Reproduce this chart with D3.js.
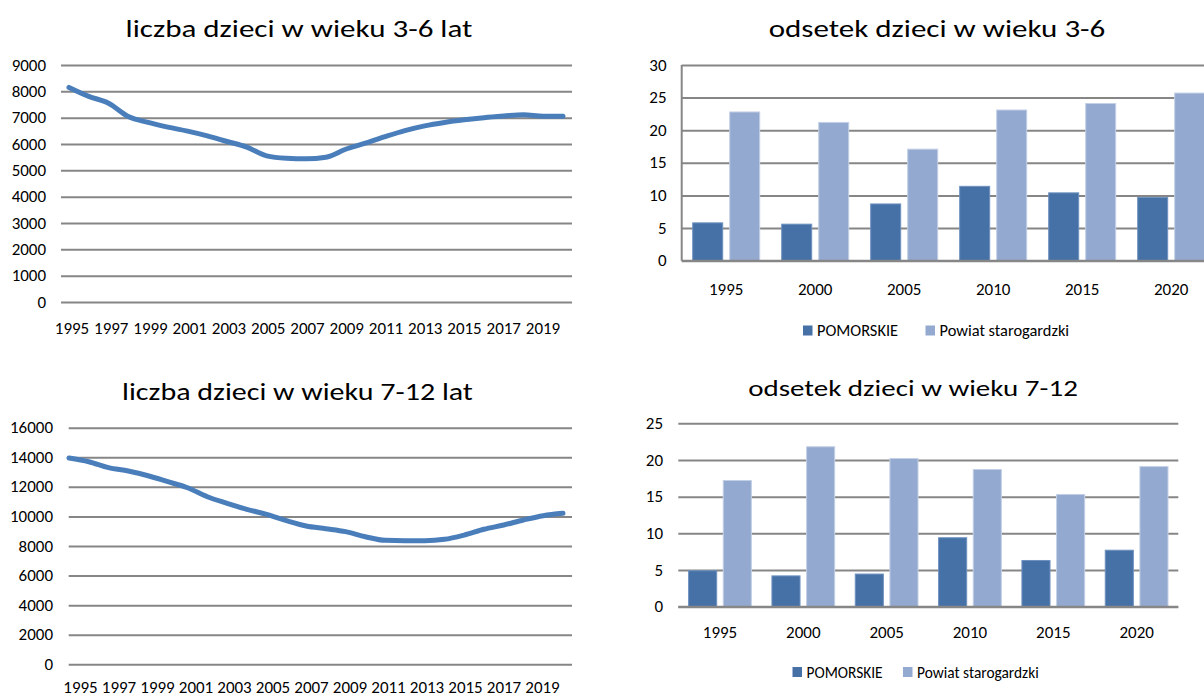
<!DOCTYPE html>
<html>
<head>
<meta charset="utf-8">
<script src="https://cdn.jsdelivr.net/npm/d3@7"></script>
<style>
    html, body { margin: 0; padding: 0; background: #fff; overflow: hidden; }
    svg { display: block; font-family: Carlito, Lato, "Open Sans", sans-serif; }
</style>
</head>
<body>
<svg id="chart" width="1204" height="697"></svg>
<script>
(function (d3) {
    "use strict";

    /***** Dane *****/

    const years = [1995, 1996, 1997, 1998, 1999, 2000, 2001, 2002, 2003, 2004, 2005, 2006, 2007,
                   2008, 2009, 2010, 2011, 2012, 2013, 2014, 2015, 2016, 2017, 2018, 2019, 2020];
    const yearTicks = [1995, 1997, 1999, 2001, 2003, 2005, 2007, 2009, 2011, 2013, 2015, 2017, 2019];

    // liczba dzieci 3-6 lat
    const kids36 = [8150, 7810, 7550, 7045, 6820, 6640, 6490, 6310, 6095, 5880, 5550, 5460, 5440,
                    5500, 5800, 6030, 6280, 6510, 6690, 6820, 6920, 7000, 7060, 7110, 7050, 7050];
    const kids36Ticks = [0, 1000, 2000, 3000, 4000, 5000, 6000, 7000, 8000, 9000];

    // liczba dzieci 7-12 lat
    const kids712 = [13950, 13700, 13300, 13070, 12750, 12350, 11940, 11330, 10890, 10480, 10140, 9710, 9350,
                     9170, 8970, 8630, 8385, 8360, 8360, 8450, 8740, 9130, 9420, 9760, 10050, 10210];
    const kids712Ticks = [0, 2000, 4000, 6000, 8000, 10000, 12000, 14000, 16000];

    // odsetek dzieci
    const barYears = ["1995", "2000", "2005", "2010", "2015", "2020"];
    const seriesNames = ["POMORSKIE", "Powiat starogardzki"];
    const share36Pom = [5.8, 5.6, 8.7, 11.4, 10.4, 9.7];
    const share36Pow = [22.8, 21.2, 17.1, 23.1, 24.1, 25.7];
    const share712Pom = [4.9, 4.2, 4.45, 9.4, 6.3, 7.7];
    const share712Pow = [17.2, 21.8, 20.2, 18.7, 15.3, 19.1];
    const share36Ticks = [0, 5, 10, 15, 20, 25, 30];
    const share712Ticks = [0, 5, 10, 15, 20, 25];

    /***** Styl *****/

    const gridColor = "#868686";
    const lineColor = "#4a7ebb";
    const barColors = ["#4571a7", "#93a9cf"];
    const tickFont = 16;
    const tickStretch = 1.06;
    const titleStretch = 1.24;

    var svg = d3.select("#chart");

    // tekst w oryginale jest rozciągnięty w poziomie
    function stretch(sel, f) {
        sel.each(function () {
            var w = this.getComputedTextLength();
            this.setAttribute("textLength", w * f);
            this.setAttribute("lengthAdjust", "spacingAndGlyphs");
        });
    }

    function title(text, x, y, size) {
        svg.append("text")
            .attr("x", x).attr("y", y)
            .attr("text-anchor", "middle")
            .style("font-size", size + "px")
            .style("font-weight", 300)
            .style("fill", "#000")
            .text(text)
            .call(stretch, titleStretch);
    }

    function yGrid(y, ticks, x0, x1, labelRight) {
        var g = svg.append("g")
            .attr("transform", "translate(" + x0 + ",0)")
            .call(d3.axisLeft(y).tickValues(ticks).tickFormat(d3.format("d"))
                .tickSize(-(x1 - x0)).tickPadding(x0 - labelRight));
        g.select(".domain").remove();
        g.attr("font-family", null).attr("font-size", null);
        g.selectAll("line").attr("stroke", gridColor).attr("stroke-width", 2);
        g.selectAll("text")
            .attr("fill", "#000")
            .style("font-size", tickFont + "px")
            .call(stretch, tickStretch);
        return g;
    }

    function xLabels(scale, ticks, baseline) {
        var g = svg.append("g")
            .attr("transform", "translate(0," + baseline + ")")
            .call(d3.axisBottom(scale).tickValues(ticks).tickSize(0));
        g.select(".domain").remove();
        g.attr("font-family", null).attr("font-size", null);
        g.selectAll("text")
            .attr("y", 0).attr("dy", 0)
            .attr("fill", "#000")
            .style("font-size", tickFont + "px")
            .call(stretch, tickStretch);
    }

    /***** Wykres liniowy *****/

    function lineChart(cfg) {
        var y = d3.scaleLinear().domain([0, cfg.ticks[cfg.ticks.length - 1]]).range([cfg.yBottom, cfg.yTop]);
        var x = d3.scalePoint().domain(years).range(cfg.lineRange);
        var xl = d3.scalePoint().domain(yearTicks).range(cfg.labelRange);

        yGrid(y, cfg.ticks, cfg.x0, cfg.x1, cfg.labelRight);
        xLabels(xl, yearTicks, cfg.labelBaseline);

        var line = d3.line()
            .x((d, i) => x(years[i]))
            .y(d => y(d))
            .curve(d3.curveMonotoneX);

        svg.append("path")
            .datum(cfg.values)
            .attr("d", line)
            .attr("fill", "none")
            .attr("stroke", lineColor)
            .attr("stroke-width", 5)
            .attr("stroke-linejoin", "round")
            .attr("stroke-linecap", "round");

        title(cfg.title, cfg.titleX, cfg.titleY, cfg.titleSize);
    }

    /***** Wykres słupkowy *****/

    function barChart(cfg) {
        var y = d3.scaleLinear().domain([0, cfg.ticks[cfg.ticks.length - 1]]).range([cfg.yBottom, cfg.yTop]);
        var x0 = d3.scaleBand().domain(barYears).range([cfg.x0, cfg.x1])
            .paddingInner(0.247).paddingOuter(0.1236);
        var x1 = d3.scaleBand().domain(seriesNames).range([0, x0.bandwidth()]).paddingInner(7 / 37);

        yGrid(y, cfg.ticks, cfg.x0, cfg.x1, cfg.labelRight);

        if (cfg.leftAxis) {
            svg.append("line")
                .attr("x1", cfg.x0).attr("x2", cfg.x0)
                .attr("y1", y(cfg.ticks[cfg.ticks.length - 1])).attr("y2", y(0))
                .attr("stroke", gridColor).attr("stroke-width", 2);
        }

        var rows = barYears.map((yr, i) => ({ year: yr, values: [cfg.a[i], cfg.b[i]] }));

        var groups = svg.append("g").selectAll("g")
            .data(rows)
            .join("g")
            .attr("transform", d => "translate(" + x0(d.year) + ",0)");

        groups.selectAll("rect")
            .data(d => d.values.map((v, k) => ({ name: seriesNames[k], value: v, k: k })))
            .join("rect")
            .attr("x", d => x1(d.name))
            .attr("width", x1.bandwidth())
            .attr("y", d => y(d.value))
            .attr("height", d => y(0) - y(d.value))
            .attr("fill", d => barColors[d.k])
            .attr("stroke", d => d.k === 1 ? "#c3d0e6" : "#6f91bf")
            .attr("stroke-width", 1);

        // linia bazowa
        svg.append("line")
            .attr("x1", cfg.x0).attr("x2", cfg.x1)
            .attr("y1", y(0)).attr("y2", y(0))
            .attr("stroke", gridColor).attr("stroke-width", 2);

        xLabels(x0, barYears, cfg.labelBaseline);

        // legenda
        var leg = svg.append("g");
        seriesNames.forEach(function (name, k) {
            leg.append("rect")
                .attr("x", cfg.legendX[k]).attr("y", cfg.legendY - 10.5)
                .attr("width", 9.5).attr("height", 10)
                .attr("fill", barColors[k]);
            leg.append("text")
                .attr("x", cfg.legendX[k] + 14).attr("y", cfg.legendY)
                .style("font-size", cfg.legendFont + "px")
                .text(name);
        });

        title(cfg.title, cfg.titleX, cfg.titleY, cfg.titleSize);
    }

    lineChart({
        title: "liczba dzieci w wieku 3-6 lat", titleX: 299, titleY: 37, titleSize: 25,
        values: kids36, ticks: kids36Ticks,
        x0: 61, x1: 572, yTop: 65, yBottom: 302, labelRight: 46,
        lineRange: [69, 563], labelRange: [71.5, 542.5], labelBaseline: 334
    });

    lineChart({
        title: "liczba dzieci w wieku 7-12 lat", titleX: 297.5, titleY: 400, titleSize: 24.2,
        values: kids712, ticks: kids712Ticks,
        x0: 68.7, x1: 572, yTop: 427.7, yBottom: 664.3, labelRight: 53,
        lineRange: [69, 563], labelRange: [80, 542], labelBaseline: 693
    });

    barChart({
        title: "odsetek dzieci w wieku 3-6", titleX: 937, titleY: 37, titleSize: 25,
        a: share36Pom, b: share36Pow, ticks: share36Ticks,
        x0: 681.7, x1: 1215.7, yTop: 65, yBottom: 260.7, labelRight: 666.5,
        leftAxis: true, labelBaseline: 295,
        legendX: [803, 925.5], legendY: 336, legendFont: 16.4
    });

    barChart({
        title: "odsetek dzieci w wieku 7-12", titleX: 913, titleY: 396, titleSize: 23.4,
        a: share712Pom, b: share712Pow, ticks: share712Ticks,
        x0: 678.3, x1: 1178.3, yTop: 423.3, yBottom: 606.7, labelRight: 663,
        leftAxis: false, labelBaseline: 638,
        legendX: [792.5, 903], legendY: 677.5, legendFont: 15.4
    });

})(d3);
</script>
</body>
</html>
